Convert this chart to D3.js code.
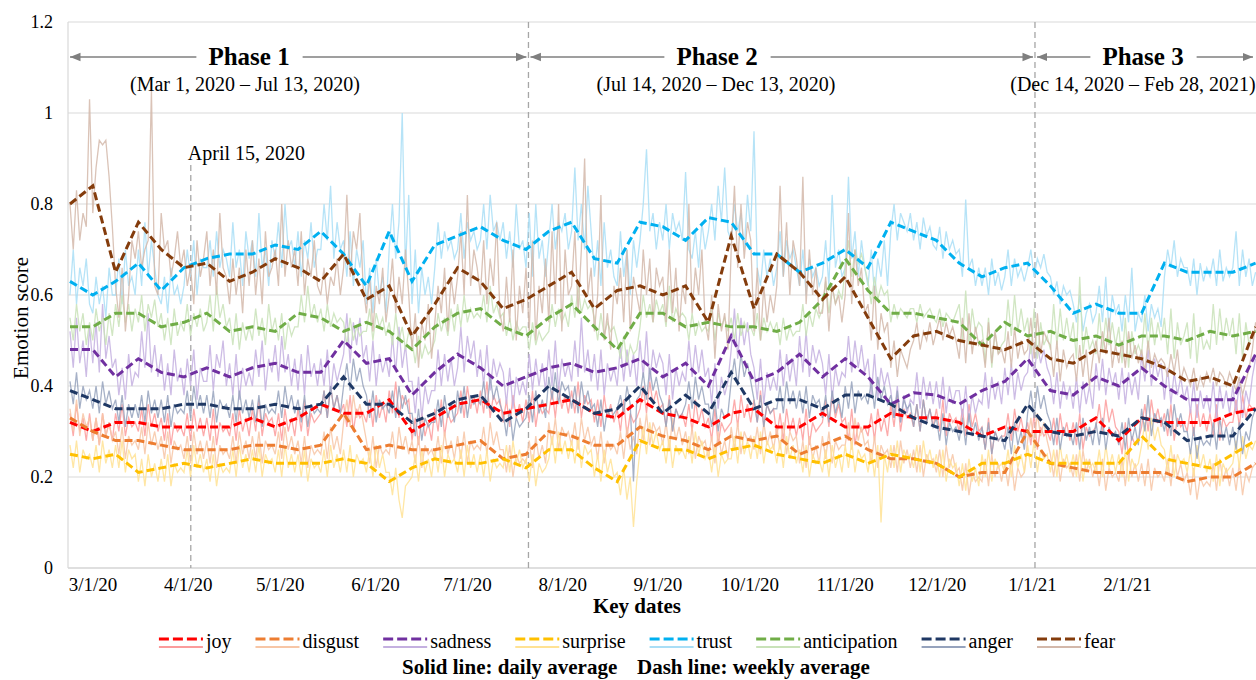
<!DOCTYPE html>
<html><head><meta charset="utf-8">
<script src="https://cdn.jsdelivr.net/npm/d3@7"></script>
<style>
body{margin:0;background:#fff;}
svg{display:block;font-family:"Liberation Serif","Times New Roman",serif;}
svg text{font-family:"Liberation Serif","Times New Roman",serif;}
</style>
</head><body>
<svg id="c" width="1256" height="680"></svg>
<script>
// ---------------- DATA ----------------
const emotions = ["joy","disgust","sadness","surprise","trust","anticipation","anger","fear"];
const yTickValues = [0,0.2,0.4,0.6,0.8,1.0,1.2];
const xTickDates = ["2020-03-01","2020-04-01","2020-05-01","2020-06-01","2020-07-01","2020-08-01","2020-09-01","2020-10-01","2020-11-01","2020-12-01","2021-01-01","2021-02-01"];
const phaseNames = ["Phase 1","Phase 2","Phase 3"];
const phaseRanges = ["(Mar 1, 2020 \u2013 Jul 13, 2020)","(Jul 14, 2020 \u2013 Dec 13, 2020)","(Dec 14, 2020 \u2013 Feb 28, 2021)"];
const phaseBoundaryDates = ["2020-07-21","2021-01-02"];
const eventLabel = "April 15, 2020";
const eventDate = "2020-04-02";

// weekly averages (53 weeks)
const joyWeekly = [.32,.30,.32,.32,.31,.31,.31,.31,.33,.31,.33,.36,.34,.34,.37,.30,.33,.36,.37,.34,.35,.36,.37,.34,.33,.37,.34,.33,.31,.34,.35,.31,.31,.34,.31,.31,.34,.33,.33,.32,.29,.31,.30,.30,.30,.33,.28,.33,.32,.32,.32,.34,.35];
const disgustWeekly = [.33,.30,.28,.28,.27,.26,.26,.26,.27,.27,.26,.27,.34,.26,.27,.26,.26,.27,.28,.24,.25,.30,.29,.27,.27,.31,.29,.28,.26,.29,.28,.29,.25,.27,.29,.26,.24,.24,.23,.20,.21,.21,.30,.23,.22,.21,.21,.21,.21,.19,.20,.20,.23];
const sadnessWeekly = [.48,.48,.42,.46,.43,.42,.44,.42,.44,.45,.43,.43,.50,.45,.46,.38,.43,.47,.44,.40,.42,.44,.45,.43,.44,.46,.42,.45,.40,.51,.41,.43,.47,.42,.46,.42,.36,.385,.38,.36,.39,.41,.46,.39,.38,.42,.40,.44,.40,.37,.37,.37,.47];
const surpriseWeekly = [.25,.24,.25,.21,.22,.23,.22,.23,.24,.23,.23,.23,.24,.23,.19,.22,.24,.23,.23,.24,.22,.26,.26,.22,.19,.28,.26,.26,.24,.26,.27,.25,.24,.23,.25,.23,.25,.24,.23,.20,.23,.23,.25,.23,.23,.23,.23,.29,.24,.23,.22,.25,.28];
const trustWeekly = [.63,.60,.63,.67,.61,.66,.68,.69,.69,.71,.70,.74,.69,.62,.74,.63,.71,.73,.75,.72,.70,.74,.76,.68,.67,.76,.75,.72,.77,.76,.69,.69,.65,.67,.70,.66,.76,.74,.72,.67,.64,.66,.67,.62,.56,.58,.56,.56,.67,.65,.65,.65,.67];
const anticipationWeekly = [.53,.53,.56,.56,.53,.54,.56,.52,.53,.52,.56,.55,.52,.54,.52,.48,.53,.56,.57,.53,.51,.55,.58,.53,.48,.56,.56,.53,.54,.53,.53,.52,.54,.59,.68,.61,.56,.56,.55,.54,.49,.54,.51,.52,.50,.51,.49,.51,.51,.50,.52,.51,.52];
const angerWeekly = [.39,.37,.35,.35,.35,.36,.36,.35,.35,.36,.35,.36,.42,.36,.36,.32,.34,.37,.38,.32,.35,.40,.37,.34,.35,.40,.34,.38,.34,.43,.35,.37,.37,.35,.38,.38,.36,.33,.31,.30,.29,.28,.36,.30,.29,.30,.29,.33,.32,.28,.29,.29,.35];
const fearWeekly = [.80,.84,.65,.76,.70,.66,.67,.63,.65,.68,.66,.63,.69,.59,.62,.51,.58,.66,.63,.57,.59,.62,.65,.57,.61,.62,.60,.62,.54,.73,.57,.69,.65,.59,.64,.55,.46,.51,.52,.50,.49,.48,.50,.46,.45,.48,.47,.46,.44,.41,.42,.40,.53];

// daily averages (365 days)
const joyDaily = [
.34,.29,.36,.30,.33,.28,.34, .28,.33,.27,.34,.29,.32,.28, .34,.30,.36,.29,.33,.31,.32, .30,.35,.29,.36,.31,.34,.30,
.33,.28,.34,.27,.32,.30,.31, .29,.34,.28,.35,.30,.33,.29, .33,.28,.35,.27,.32,.30,.31, .29,.34,.28,.35,.30,.33,.29,
.35,.30,.37,.29,.34,.32,.33, .29,.34,.28,.35,.30,.33,.29, .35,.30,.37,.29,.34,.32,.33, .34,.39,.33,.40,.35,.38,.34,
.36,.31,.38,.30,.35,.33,.34, .32,.37,.31,.38,.33,.36,.32, .39,.34,.41,.33,.38,.36,.37, .28,.33,.27,.34,.29,.32,.28,
.35,.30,.37,.29,.34,.32,.33, .34,.39,.33,.40,.35,.38,.34, .39,.34,.41,.33,.38,.36,.37, .32,.37,.31,.38,.33,.36,.32,
.37,.32,.39,.31,.36,.34,.35, .34,.39,.33,.40,.35,.38,.34, .39,.34,.41,.33,.38,.36,.37, .32,.37,.31,.38,.33,.36,.32,
.35,.30,.37,.29,.34,.32,.33, .35,.40,.34,.41,.36,.39,.35, .36,.31,.38,.30,.35,.33,.34, .31,.36,.30,.37,.32,.35,.31,
.33,.28,.35,.27,.32,.30,.31, .32,.37,.31,.38,.33,.36,.32, .37,.32,.39,.31,.36,.34,.35, .29,.34,.28,.35,.30,.33,.29,
.33,.28,.35,.27,.32,.30,.31, .32,.37,.31,.38,.33,.36,.32, .33,.28,.35,.27,.32,.30,.31, .29,.34,.28,.35,.30,.33,.29,
.36,.31,.38,.30,.35,.33,.34, .31,.36,.30,.37,.32,.35,.31, .35,.30,.37,.29,.34,.32,.33, .30,.35,.29,.36,.31,.34,.30,
.31,.26,.33,.25,.30,.28,.29, .29,.34,.28,.35,.30,.33,.29, .32,.27,.34,.26,.31,.29,.30, .28,.33,.27,.34,.29,.32,.28,
.32,.27,.34,.26,.31,.29,.30, .31,.36,.30,.37,.32,.35,.31, .30,.25,.32,.24,.29,.27,.28, .31,.36,.30,.37,.32,.35,.31,
.34,.29,.36,.28,.33,.31,.32, .30,.35,.29,.36,.31,.34,.30, .34,.29,.36,.28,.33,.31,.32, .32,.37,.31,.38,.33,.36,.35,
.35];
const disgustDaily = [
.35,.30,.37,.29,.34,.31,.33, .28,.33,.27,.34,.29,.32,.28, .30,.25,.31,.24,.29,.27,.28, .26,.31,.25,.32,.27,.30,.26,
.29,.24,.30,.23,.28,.26,.27, .24,.29,.23,.30,.25,.28,.24, .28,.23,.29,.22,.27,.25,.26, .24,.29,.23,.30,.25,.28,.24,
.29,.24,.30,.23,.28,.26,.27, .25,.30,.24,.31,.26,.29,.25, .28,.23,.29,.22,.27,.25,.26, .25,.30,.24,.31,.26,.29,.25,
.32,.37,.31,.38,.33,.36,.32, .28,.23,.29,.22,.27,.25,.26, .25,.30,.24,.31,.26,.29,.25, .28,.23,.29,.22,.27,.25,.26,
.24,.29,.23,.30,.25,.28,.24, .29,.24,.30,.23,.28,.26,.27, .26,.31,.25,.32,.27,.30,.26, .26,.21,.27,.20,.25,.23,.24,
.23,.28,.22,.29,.24,.27,.23, .32,.27,.33,.26,.31,.29,.30, .27,.32,.26,.33,.28,.31,.27, .29,.24,.30,.23,.28,.26,.27,
.25,.30,.24,.31,.26,.29,.25, .33,.28,.34,.27,.32,.30,.31, .27,.32,.26,.33,.28,.31,.27, .30,.25,.31,.24,.29,.27,.28,
.24,.29,.23,.30,.25,.28,.24, .31,.26,.32,.25,.30,.28,.29, .26,.31,.25,.32,.27,.30,.26, .31,.26,.32,.25,.30,.28,.29,
.23,.28,.22,.29,.24,.27,.23, .29,.24,.30,.23,.28,.26,.27, .27,.32,.26,.33,.28,.31,.27, .28,.23,.29,.22,.27,.25,.26,
.22,.27,.21,.28,.23,.26,.22, .26,.21,.27,.20,.25,.23,.24, .21,.26,.20,.27,.22,.25,.21, .22,.17,.23,.16,.21,.19,.20,
.19,.24,.18,.25,.20,.23,.19, .23,.18,.24,.17,.22,.20,.21, .28,.33,.27,.34,.29,.32,.28, .25,.20,.26,.19,.24,.22,.23,
.20,.25,.19,.26,.21,.24,.20, .23,.18,.24,.17,.22,.20,.21, .19,.24,.18,.25,.20,.23,.19, .23,.18,.24,.17,.22,.20,.21,
.19,.24,.18,.25,.20,.23,.19, .21,.16,.22,.15,.20,.18,.19, .18,.23,.17,.24,.19,.22,.18, .22,.17,.23,.16,.21,.19,.22,
.23];
const sadnessDaily = [
.52,.44,.55,.45,.50,.42,.53, .45,.54,.43,.58,.46,.51,.44, .46,.38,.44,.37,.47,.40,.43, .42,.52,.44,.56,.43,.49,.42,
.47,.39,.45,.38,.48,.41,.44, .38,.46,.40,.48,.37,.44,.41, .41,.49,.39,.47,.44,.50,.40, .45,.38,.47,.37,.44,.40,.43,
.40,.48,.42,.50,.39,.46,.43, .49,.41,.51,.43,.47,.40,.46, .39,.47,.38,.49,.42,.45,.40, .46,.40,.48,.38,.45,.41,.44,
.47,.56,.45,.54,.49,.55,.46, .49,.41,.50,.40,.47,.43,.46, .42,.51,.43,.53,.44,.49,.41, .41,.34,.42,.33,.40,.36,.39,
.39,.48,.40,.47,.41,.46,.40, .44,.53,.43,.51,.46,.50,.42, .48,.40,.49,.39,.46,.42,.45, .43,.36,.44,.35,.42,.38,.41,
.38,.47,.39,.46,.40,.45,.39, .48,.40,.50,.39,.46,.42,.45, .41,.50,.42,.55,.43,.48,.41, .47,.39,.48,.38,.45,.41,.44,
.40,.49,.41,.48,.42,.47,.40, .50,.42,.52,.41,.48,.44,.47, .45,.38,.47,.37,.44,.40,.43, .41,.50,.42,.49,.43,.48,.42,
.44,.36,.45,.35,.42,.38,.41, .48,.57,.46,.55,.49,.54,.47, .44,.37,.46,.36,.43,.39,.42, .39,.48,.40,.47,.41,.46,.40,
.51,.43,.52,.42,.49,.45,.48, .45,.38,.47,.37,.44,.40,.43, .42,.51,.43,.50,.44,.49,.43, .46,.38,.47,.37,.44,.40,.43,
.39,.33,.40,.32,.38,.34,.37, .36,.43,.35,.42,.37,.41,.36, .41,.35,.42,.34,.40,.36,.39, .39,.33,.40,.32,.38,.34,.37,
.36,.43,.35,.42,.37,.41,.36, .44,.38,.45,.37,.43,.39,.42, .43,.50,.42,.49,.45,.48,.44, .42,.36,.43,.35,.41,.37,.40,
.35,.42,.34,.41,.36,.40,.35, .45,.39,.46,.38,.44,.40,.43, .37,.44,.36,.43,.38,.42,.37, .47,.41,.48,.40,.46,.42,.45,
.37,.44,.36,.43,.38,.42,.37, .40,.34,.41,.33,.39,.35,.38, .34,.41,.33,.40,.35,.39,.34, .40,.34,.41,.33,.39,.36,.42,
.46];
const surpriseDaily = [
.27,.22,.28,.21,.26,.24,.25, .22,.27,.21,.28,.23,.26,.22, .27,.22,.28,.21,.26,.24,.25, .19,.24,.18,.25,.20,.23,.19,
.24,.19,.25,.18,.23,.21,.22, .21,.26,.20,.27,.22,.25,.21, .24,.19,.25,.18,.23,.21,.22, .21,.26,.20,.27,.22,.25,.21,
.26,.21,.27,.20,.25,.23,.24, .21,.26,.20,.27,.22,.25,.21, .25,.20,.26,.19,.24,.22,.23, .21,.26,.20,.27,.22,.25,.21,
.26,.21,.27,.20,.25,.23,.24, .21,.26,.20,.27,.22,.25,.21, .21,.16,.22,.15,.11,.18,.19, .20,.25,.19,.26,.21,.24,.20,
.26,.21,.27,.20,.25,.23,.24, .21,.26,.20,.27,.22,.25,.21, .25,.20,.26,.19,.24,.22,.23, .22,.27,.21,.28,.23,.26,.22,
.24,.19,.25,.18,.23,.21,.22, .24,.29,.23,.30,.25,.28,.24, .28,.23,.29,.22,.27,.25,.26, .20,.25,.19,.26,.21,.24,.20,
.21,.16,.22,.15,.20,.09,.19, .26,.31,.25,.32,.27,.30,.26, .28,.23,.29,.22,.27,.25,.26, .24,.29,.23,.30,.25,.28,.24,
.26,.21,.27,.20,.25,.23,.24, .24,.29,.23,.30,.25,.28,.24, .29,.24,.30,.23,.28,.26,.27, .23,.28,.22,.29,.24,.27,.23,
.26,.21,.27,.20,.25,.23,.24, .21,.26,.20,.27,.22,.25,.21, .27,.22,.28,.21,.26,.24,.25, .21,.26,.20,.27,.10,.25,.21,
.27,.22,.28,.21,.26,.24,.25, .22,.27,.21,.28,.23,.26,.22, .25,.20,.26,.19,.24,.22,.23, .18,.23,.17,.24,.19,.22,.18,
.25,.20,.26,.19,.24,.22,.23, .21,.26,.20,.27,.22,.25,.21, .27,.22,.28,.21,.26,.24,.25, .21,.26,.20,.27,.22,.25,.21,
.25,.20,.26,.19,.24,.22,.23, .21,.26,.20,.27,.22,.25,.21, .25,.20,.26,.19,.24,.22,.23, .27,.32,.26,.33,.28,.31,.27,
.26,.21,.27,.20,.25,.23,.24, .21,.26,.20,.27,.22,.25,.21, .24,.19,.25,.18,.23,.21,.22, .23,.28,.22,.29,.24,.27,.26,
.28];
const trustDaily = [
.60,.70,.58,.66,.62,.68,.58, .56,.64,.58,.62,.55,.66,.60, .60,.68,.58,.70,.62,.64,.60, .70,.62,.76,.64,.72,.66,.60,
.58,.64,.56,.66,.60,.62,.58, .62,.70,.64,.72,.60,.68,.66, .66,.72,.64,.74,.66,.70,.68, .64,.76,.66,.70,.62,.74,.68,
.72,.64,.78,.66,.70,.62,.72, .68,.76,.66,.80,.70,.72,.66, .74,.64,.72,.68,.76,.66,.70, .70,.80,.72,.84,.68,.76,.70,
.72,.64,.74,.62,.70,.66,.72, .58,.66,.56,.68,.60,.64,.56, .70,.80,.68,.76,1.0,.66,.82, .58,.70,.56,.66,.60,.64,.58,
.66,.76,.68,.74,.70,.72,.68, .70,.78,.68,.76,.72,.74,.70, .72,.80,.70,.82,.74,.76,.72, .76,.68,.74,.66,.80,.70,.72,
.66,.78,.64,.80,.68,.72,.64, .72,.80,.70,.76,.74,.78,.70, .74,.88,.72,.80,.70,.84,.74, .64,.72,.62,.76,.66,.70,.64,
.62,.74,.64,.70,.60,.72,.66, .72,.80,.92,.74,.78,.70,.76, .72,.80,.70,.78,.74,.76,.72, .87,.70,.68,.74,.66,.76,.70,
.74,.80,.72,.84,.76,.88,.74, .72,.80,.74,.78,.70,.82,.74, .96,.66,.62,.70,.64,.68,.62, .66,.74,.64,.72,.68,.70,.66,
.62,.70,.60,.68,.64,.66,.62, .64,.72,.62,.82,.66,.70,.64, .66,.86,.68,.74,.64,.72,.66, .62,.70,.60,.68,.64,.72,.62,
.74,.80,.72,.78,.76,.74,.78, .72,.76,.70,.77,.73,.75,.71, .70,.75,.68,.74,.70,.72,.69, .70,.64,.81,.66,.68,.62,.66,
.62,.66,.60,.68,.62,.65,.61, .64,.70,.62,.68,.64,.66,.63, .66,.70,.64,.68,.66,.69,.65, .64,.60,.63,.58,.62,.60,.61,
.58,.54,.60,.52,.56,.58,.54, .56,.62,.54,.64,.52,.60,.56, .58,.52,.60,.54,.66,.52,.56, .54,.60,.52,.58,.55,.57,.53,
.64,.70,.66,.72,.64,.68,.66, .66,.62,.68,.60,.67,.63,.66, .64,.68,.62,.70,.63,.66,.64, .66,.74,.62,.70,.64,.68,.62,
.65];
const anticipationDaily = [
.55,.50,.58,.52,.56,.49,.54, .50,.57,.52,.55,.49,.56,.51, .58,.53,.60,.54,.58,.52,.57, .54,.60,.52,.58,.55,.59,.53,
.56,.50,.55,.49,.57,.51,.54, .52,.58,.51,.56,.53,.57,.52, .54,.60,.52,.62,.55,.58,.53, .55,.49,.56,.48,.54,.50,.53,
.50,.57,.51,.55,.49,.58,.52, .55,.50,.56,.48,.54,.51,.53, .53,.60,.54,.62,.55,.58,.54, .57,.52,.58,.53,.56,.54,.55,
.54,.49,.55,.50,.53,.51,.52, .52,.57,.50,.56,.53,.55,.51, .54,.49,.56,.50,.53,.48,.52, .50,.45,.51,.46,.49,.47,.48,
.50,.56,.52,.55,.51,.57,.52, .58,.53,.60,.54,.57,.55,.56, .55,.60,.54,.62,.56,.58,.55, .56,.51,.55,.50,.54,.52,.53,
.53,.48,.54,.49,.52,.50,.51, .52,.58,.53,.57,.54,.56,.53, .60,.55,.62,.56,.59,.57,.58, .55,.50,.56,.51,.54,.52,.53,
.50,.46,.51,.45,.49,.47,.48, .53,.60,.55,.58,.54,.59,.56, .58,.53,.62,.54,.57,.55,.56, .55,.50,.56,.51,.54,.52,.53,
.52,.57,.50,.56,.53,.55,.52, .55,.50,.56,.51,.54,.52,.53, .51,.56,.50,.55,.52,.54,.52, .54,.49,.55,.50,.53,.51,.52,
.52,.58,.51,.56,.53,.57,.55, .57,.63,.56,.62,.58,.61,.59, .66,.72,.64,.70,.67,.69,.66, .63,.58,.64,.59,.62,.60,.61,
.54,.58,.55,.57,.56,.55,.57, .57,.54,.58,.55,.56,.57,.55, .54,.57,.53,.56,.55,.54,.56, .58,.50,.61,.49,.57,.52,.54,
.53,.45,.55,.44,.52,.47,.49, .50,.59,.51,.60,.52,.57,.52, .55,.47,.57,.46,.54,.49,.51, .48,.58,.49,.57,.50,.55,.50,
.54,.46,.64,.47,.53,.48,.50, .47,.56,.48,.55,.49,.54,.49, .53,.45,.55,.44,.52,.47,.49, .47,.56,.48,.55,.49,.54,.50,
.55,.47,.57,.46,.54,.49,.51, .54,.46,.56,.45,.53,.48,.50, .48,.58,.49,.57,.50,.55,.51, .55,.47,.56,.46,.54,.49,.52,
.52];
const angerDaily = [
.41,.36,.43,.35,.40,.37,.39, .35,.40,.34,.41,.36,.39,.35, .37,.32,.38,.31,.36,.33,.36, .33,.38,.32,.39,.34,.37,.33,
.37,.32,.38,.31,.36,.34,.35, .34,.39,.33,.40,.35,.38,.34, .38,.33,.39,.32,.37,.35,.36, .33,.38,.32,.39,.34,.37,.33,
.37,.32,.38,.31,.36,.34,.35, .34,.39,.33,.40,.35,.38,.34, .37,.32,.38,.31,.36,.34,.35, .34,.39,.33,.40,.35,.38,.34,
.40,.45,.39,.46,.41,.44,.40, .38,.33,.39,.32,.37,.35,.36, .34,.39,.33,.40,.35,.38,.34, .34,.29,.35,.28,.33,.31,.32,
.32,.37,.31,.38,.33,.36,.32, .39,.34,.40,.33,.38,.36,.37, .36,.41,.35,.42,.37,.40,.36, .34,.29,.35,.28,.33,.31,.32,
.33,.38,.32,.39,.34,.37,.33, .42,.37,.43,.36,.41,.39,.40, .35,.40,.34,.41,.36,.39,.35, .36,.31,.37,.30,.35,.33,.34,
.35,.38,.34,.40,.36,.19,.37, .38,.43,.37,.44,.39,.42,.38, .36,.31,.37,.30,.35,.33,.34, .36,.41,.35,.42,.37,.40,.36,
.36,.31,.37,.30,.35,.33,.34, .41,.46,.40,.47,.42,.45,.41, .37,.32,.38,.31,.36,.34,.35, .35,.40,.34,.41,.36,.39,.35,
.39,.34,.40,.33,.38,.36,.37, .33,.38,.32,.39,.34,.37,.33, .40,.35,.41,.34,.39,.37,.38, .36,.41,.35,.42,.37,.40,.36,
.38,.33,.39,.32,.37,.35,.36, .31,.36,.30,.37,.32,.35,.31, .33,.28,.34,.27,.32,.30,.31, .28,.33,.27,.34,.29,.32,.28,
.31,.26,.32,.25,.30,.28,.29, .26,.31,.25,.32,.27,.30,.26, .34,.39,.33,.40,.35,.38,.34, .32,.27,.33,.26,.31,.29,.30,
.27,.32,.26,.33,.28,.31,.27, .32,.27,.33,.26,.31,.29,.30, .27,.32,.26,.33,.28,.31,.27, .35,.30,.38,.29,.34,.32,.33,
.30,.35,.29,.36,.31,.34,.30, .30,.25,.31,.24,.29,.27,.28, .27,.32,.26,.33,.28,.31,.27, .31,.26,.32,.25,.30,.28,.33,
.35];
const fearDaily = [
.80,.70,.83,.72,.78,.75,1.03, .78,.88,.94,.93,.94,.86,.75, .62,.55,.66,.52,.60,.72,.68, .74,.66,.70,.72,1.05,.62,.60,
.78,.70,.72,.64,.68,.74,.66, .70,.62,.66,.58,.72,.64,.68, .74,.62,.70,.60,.78,.66,.64, .58,.68,.60,.66,.56,.70,.62,
.72,.60,.68,.58,.74,.64,.66, .70,.62,.80,.64,.72,.66,.70, .62,.74,.60,.68,.64,.72,.62, .60,.66,.58,.64,.62,.68,.60,
.66,.82,.64,.74,.70,.78,.62, .56,.64,.52,.62,.58,.66,.54, .60,.68,.56,.64,.58,.70,.60, .48,.56,.44,.54,.50,.58,.46,
.54,.62,.56,.66,.52,.64,.58, .64,.74,.60,.82,.62,.70,.66, .60,.72,.58,.68,.62,.76,.56, .52,.64,.54,.70,.50,.62,.56,
.66,.52,.72,.50,.62,.56,.68, .54,.74,.58,.80,.52,.70,.60, .62,.74,.56,.70,.90,.60,.66, .52,.60,.82,.50,.56,.48,.62,
.58,.66,.54,.70,.52,.64,.60, .56,.70,.60,.68,.54,.66,.62, .64,.54,.70,.56,.66,.52,.62, .58,.80,.56,.66,.60,.70,.54,
.50,.60,.46,.58,.52,.56,.48, .70,.84,.66,.80,.68,.76,.72, .52,.66,.50,.62,.54,.60,.56, .62,.84,.64,.76,.60,.72,.68,
.62,.86,.58,.70,.60,.66,.56, .56,.64,.52,.62,.58,.60,.54, .60,.78,.58,.70,.62,.66,.56, .58,.50,.62,.48,.56,.52,.54,
.44,.50,.42,.48,.46,.44,.48, .50,.54,.48,.52,.50,.54,.49, .52,.55,.50,.54,.51,.53,.50, .46,.55,.45,.56,.47,.53,.49,
.50,.44,.54,.45,.52,.47,.48, .45,.52,.44,.53,.46,.50,.47, .48,.55,.46,.56,.47,.52,.50, .49,.42,.50,.41,.48,.44,.46,
.47,.41,.49,.42,.48,.40,.46, .50,.45,.52,.47,.55,.44,.49, .45,.50,.44,.52,.46,.49,.45, .48,.43,.50,.44,.47,.45,.46,
.45,.42,.47,.43,.48,.41,.44, .42,.40,.44,.39,.42,.40,.43, .41,.44,.40,.43,.42,.40,.43, .41,.39,.42,.38,.41,.44,.48,
.54];

// ---------------- STYLE ----------------
const FONT = "'Liberation Serif','Times New Roman',serif";
const weeklyColor = {joy:"#ff0000",disgust:"#ed7d31",sadness:"#7030a0",surprise:"#ffc000",trust:"#00b0f0",anticipation:"#70ad47",anger:"#1f3864",fear:"#843c0c"};
const dailyColor  = {joy:"#fb9c9c",disgust:"#f7c6a6",sadness:"#c4b0e0",surprise:"#ffe294",trust:"#a9def6",anticipation:"#c9e2b9",anger:"#96a3bd",fear:"#d3b8aa"};

const weekly = {joy:joyWeekly,disgust:disgustWeekly,sadness:sadnessWeekly,surprise:surpriseWeekly,trust:trustWeekly,anticipation:anticipationWeekly,anger:angerWeekly,fear:fearWeekly};
const daily = {joy:joyDaily,disgust:disgustDaily,sadness:sadnessDaily,surprise:surpriseDaily,trust:trustDaily,anticipation:anticipationDaily,anger:angerDaily,fear:fearDaily};

// ---------------- CHART ----------------
const svg = d3.select("#c").attr("font-family",FONT);
const plot = {left:68, right:1256, top:22, bottom:568};
const parse = d3.timeParse("%Y-%m-%d");

const y = d3.scaleLinear().domain([0,1.2]).range([plot.bottom, plot.top]);
const xDay = d3.scaleLinear().domain([0,364]).range([70,1255.6]);
const xDate = d3.scaleTime().domain([parse("2020-02-22"), parse("2021-03-15")]).range([plot.left, plot.right]);

// gridlines
svg.append("g").selectAll("line").data(yTickValues.filter(v=>v>0)).join("line")
  .attr("x1",plot.left).attr("x2",plot.right)
  .attr("y1",d=>y(d)).attr("y2",d=>y(d))
  .attr("stroke","#d9d9d9").attr("stroke-width",1.2);
svg.append("line").attr("x1",plot.left).attr("x2",plot.right).attr("y1",y(0)).attr("y2",y(0))
  .attr("stroke","#bfbfbf").attr("stroke-width",1.2);
svg.append("line").attr("x1",plot.left).attr("x2",plot.left).attr("y1",y(1.2)).attr("y2",y(0))
  .attr("stroke","#d9d9d9").attr("stroke-width",1.2);

// y axis
const yAxis = svg.append("g").attr("transform",`translate(${plot.left},0)`)
  .call(d3.axisLeft(y).tickValues(yTickValues).tickSize(0).tickPadding(15).tickFormat(d=>String(+d.toFixed(1))));
yAxis.attr("font-family",FONT);
yAxis.select(".domain").remove();
yAxis.selectAll("text").attr("font-family",FONT).attr("font-size",18).attr("fill","#000");

// x axis
const xAxis = svg.append("g").attr("transform",`translate(0,${plot.bottom})`)
  .call(d3.axisBottom(xDate).tickValues(xTickDates.map(parse)).tickSize(0).tickPadding(10).tickFormat(d3.timeFormat("%-m/%-d/%y")));
xAxis.attr("font-family",FONT);
xAxis.select(".domain").remove();
xAxis.selectAll("text").attr("font-family",FONT).attr("font-size",19).attr("fill","#000");

// axis titles
svg.append("text").attr("x",637).attr("y",613).attr("text-anchor","middle")
  .attr("font-size",21).attr("font-weight","bold").text("Key dates");
svg.append("text").attr("transform","translate(28,318) rotate(-90)").attr("text-anchor","middle")
  .attr("font-size",21).text("Emotion score");

// vertical dashed lines
phaseBoundaryDates.forEach(d=>{
  svg.append("line").attr("x1",xDate(parse(d))).attr("x2",xDate(parse(d)))
    .attr("y1",plot.top).attr("y2",plot.bottom)
    .attr("stroke","#a6a6a6").attr("stroke-width",1.3).attr("stroke-dasharray","6,4");
});
svg.append("line").attr("x1",xDate(parse(eventDate))).attr("x2",xDate(parse(eventDate)))
  .attr("y1",165).attr("y2",plot.bottom)
  .attr("stroke","#a6a6a6").attr("stroke-width",1.3).attr("stroke-dasharray","6,4");
svg.append("text").attr("x",xDate(parse(eventDate))-3).attr("y",160).attr("font-size",20).text(eventLabel);

// lines
const dailyLine = d3.line().x((d,i)=>xDay(i)).y(d=>y(d));
const weeklyLine = d3.line().x((d,i)=>xDay(i*7)).y(d=>y(d));
const gD = svg.append("g");
emotions.forEach(e=>{
  gD.append("path").attr("d",dailyLine(daily[e])).attr("fill","none")
    .attr("stroke",dailyColor[e]).attr("stroke-width",1.3).attr("stroke-opacity",0.85);
});
const gW = svg.append("g");
emotions.forEach(e=>{
  gW.append("path").attr("d",weeklyLine(weekly[e])).attr("fill","none")
    .attr("stroke",weeklyColor[e]).attr("stroke-width",3).attr("stroke-dasharray","8,4");
});

// phase annotations
const defs = svg.append("defs");
defs.append("marker").attr("id","ah").attr("viewBox","0 0 10 10").attr("refX",10).attr("refY",5)
  .attr("markerWidth",7).attr("markerHeight",7).attr("orient","auto-start-reverse")
  .append("path").attr("d","M0,1 L10,5 L0,9 Z").attr("fill","#7f7f7f");
const bounds = [xDate.range()[0]+2, xDate(parse(phaseBoundaryDates[0])), xDate(parse(phaseBoundaryDates[1])), plot.right-3];
const titleCenters = [249, 717, 1143];
const subCenters = [245, 716, 1133];
phaseNames.forEach((p,i)=>{
  const t = svg.append("text").attr("x",titleCenters[i]).attr("y",65).attr("text-anchor","middle")
    .attr("font-size",25).attr("font-weight","bold").text(p);
  const w = t.node().getComputedTextLength();
  const a0 = bounds[i] + (i>0?2:0), a1 = bounds[i+1] - (i<2?2:0);
  svg.append("line").attr("x1",titleCenters[i]-w/2-12).attr("x2",a0).attr("y1",57).attr("y2",57)
    .attr("stroke","#7f7f7f").attr("stroke-width",1.5).attr("marker-end","url(#ah)");
  svg.append("line").attr("x1",titleCenters[i]+w/2+13).attr("x2",a1).attr("y1",57).attr("y2",57)
    .attr("stroke","#7f7f7f").attr("stroke-width",1.5).attr("marker-end","url(#ah)");
  svg.append("text").attr("x",subCenters[i]).attr("y",91).attr("text-anchor","middle")
    .attr("font-size",20).text(phaseRanges[i]);
});

// legend
const lg = svg.append("g");
let lx = 0;
emotions.forEach(e=>{
  const g = lg.append("g").attr("transform",`translate(${lx},0)`);
  g.append("line").attr("x1",0).attr("x2",44).attr("y1",639).attr("y2",639)
    .attr("stroke",weeklyColor[e]).attr("stroke-width",3).attr("stroke-dasharray","10,4");
  g.append("line").attr("x1",0).attr("x2",44).attr("y1",647).attr("y2",647)
    .attr("stroke",dailyColor[e]).attr("stroke-width",2.2);
  const t = g.append("text").attr("x",47).attr("y",648).attr("font-size",20).text(e);
  lx += 47 + t.node().getComputedTextLength() + 24;
});
lx -= 24;
lg.attr("transform",`translate(${637 - lx/2},0)`);

svg.append("text").attr("x",402).attr("y",674).attr("font-size",21).attr("font-weight","bold").text("Solid line: daily average");
svg.append("text").attr("x",637).attr("y",674).attr("font-size",21).attr("font-weight","bold").text("Dash line: weekly average");
</script>
</body></html>
